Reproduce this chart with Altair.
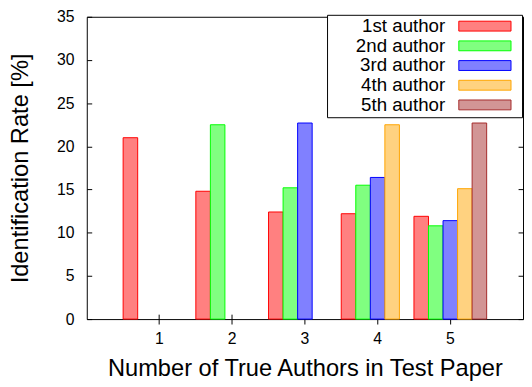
import altair as alt
import pandas as pd

groups = ["1", "2", "3", "4", "5"]
authors = ["1st author", "2nd author", "3rd author", "4th author", "5th author"]

# identification rate [%] per true-author count (None = not applicable)
rate_1st = [21.0, 14.8, 12.4, 12.2, 11.9]
rate_2nd = [None, 22.5, 15.2, 15.5, 10.8]
rate_3rd = [None, None, 22.7, 16.4, 11.4]
rate_4th = [None, None, None, 22.5, 15.1]
rate_5th = [None, None, None, None, 22.7]

fill_colors = ["#ff8080", "#80ff80", "#8080ff", "#ffd280", "#d29595"]
stroke_colors = ["#ff0000", "#00ff00", "#0000ff", "#ffa500", "#a52a2a"]
y_ticks = [0, 5, 10, 15, 20, 25, 30, 35]

rows = []
for author, series in zip(authors, [rate_1st, rate_2nd, rate_3rd, rate_4th, rate_5th]):
    for g, v in zip(groups, series):
        if v is not None:
            rows.append({"group": g, "author": author, "rate": v})
df = pd.DataFrame(rows)

FONT = "Liberation Sans"

x_enc = alt.X("group:O", sort=groups,
              scale=alt.Scale(paddingInner=0, paddingOuter=0.5),
              axis=alt.Axis(title="Number of True Authors in Test Paper", labelAngle=0,
                            offset=-5, tickSize=10, labelPadding=7, domain=False,
                            grid=False, labelFontSize=16, titleFontSize=24,
                            titlePadding=10, tickColor="black", labelColor="black",
                            titleColor="black", titleFontWeight="normal"))
xoff_enc = alt.XOffset("author:N", sort=authors,
                       scale=alt.Scale(domain=authors, paddingInner=0, paddingOuter=0))
y_scale = alt.Scale(domain=[0, 35], nice=False)

# wide flat swatch (53 x 10 px at symbolSize 100); the zero-length subpath only widens the box
legend = alt.Legend(title=None, orient="none", legendX=244, legendY=-2,
                    direction="vertical",
                    symbolType="M-5.3,-1H5.3V1H-5.3Z M6.7,0L6.7,0", symbolSize=100,
                    symbolStrokeWidth=1, labelAlign="right",
                    labelOffset={"expr": "-49.8"}, symbolOffset=148.8,
                    labelFontSize=19, labelFont=FONT, labelColor="black",
                    strokeColor="black", fillColor="white", padding=2,
                    rowPadding=0)

bars = alt.Chart(df).mark_bar(strokeWidth=1, fillOpacity=1).encode(
    x=x_enc,
    xOffset=xoff_enc,
    y=alt.Y("rate:Q", scale=y_scale,
            axis=alt.Axis(title="Identification Rate [%]", values=y_ticks,
                          offset=-5, tickSize=5, labelPadding=13, domain=False,
                          grid=False, labelFontSize=16, titleFontSize=24,
                          titlePadding=24, tickColor="black", labelColor="black",
                          titleColor="black", titleFontWeight="normal")),
    fill=alt.Fill("author:N", sort=authors,
                  scale=alt.Scale(domain=authors, range=fill_colors), legend=legend),
    stroke=alt.Stroke("author:N", sort=authors,
                      scale=alt.Scale(domain=authors, range=stroke_colors), legend=legend),
)

mirror = alt.Chart(df).mark_bar(opacity=0).encode(
    x=x_enc,
    xOffset=xoff_enc,
    y=alt.Y("rate:Q", scale=y_scale,
            axis=alt.Axis(orient="right", title=None, values=y_ticks, labels=False,
                          offset=-5, tickSize=5, domain=False, grid=False,
                          tickColor="black")),
)

chart = alt.layer(bars, mirror).resolve_scale(y="independent").properties(
    width=443, height=307,
    autosize=alt.AutoSizeParams(type="none"),
    padding={"left": 80, "top": 6, "right": 1, "bottom": 64},
).configure(font=FONT).configure_view(stroke="black", strokeWidth=1)

chart.save("out.html", embed_options={"renderer": "svg", "actions": False})
